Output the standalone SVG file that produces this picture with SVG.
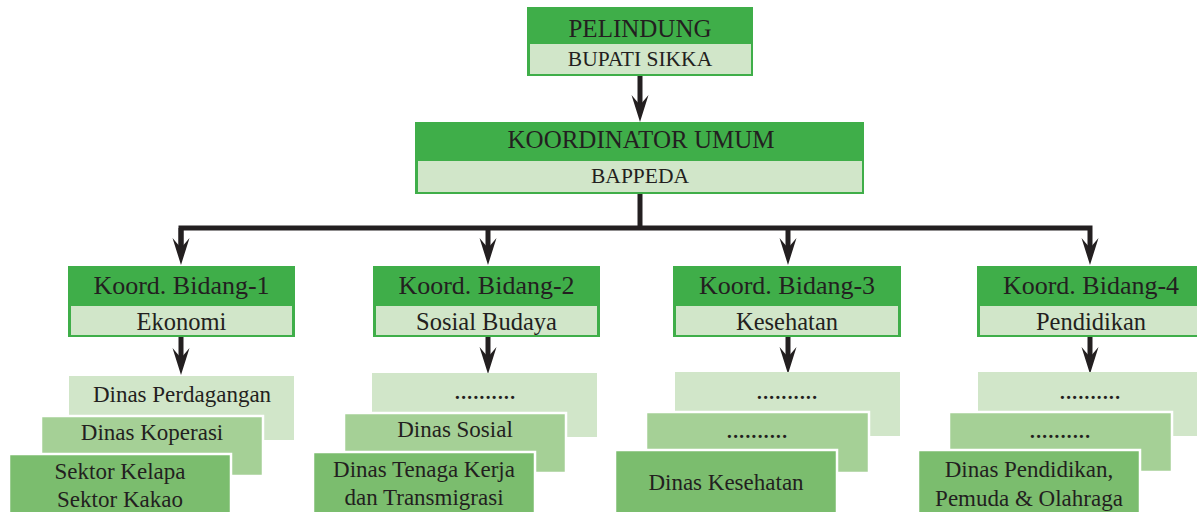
<svg xmlns="http://www.w3.org/2000/svg" width="1197" height="512" viewBox="0 0 1197 512">
<style>
.hd{fill:#3fae49}
.lt{fill:#d1e6c9}
.b1{fill:#d1e6c9}
.b2{fill:#a5d096;stroke:#fff;stroke-width:2.5}
.b3{fill:#7bbd6e;stroke:#fff;stroke-width:2.5}
text{font-family:"Liberation Serif","Times New Roman",serif;fill:#231f20;text-anchor:middle}
.t1{font-size:26px}
.t2{font-size:24.5px}
.t3{font-size:23px}
.dt{font-size:27px}
.ln{fill:none;stroke:#231f20;stroke-width:5;stroke-linejoin:miter}
</style>
<defs>
<marker id="ah" markerUnits="userSpaceOnUse" viewBox="0 -9 28 18" refX="17" refY="0" markerWidth="28" markerHeight="18" orient="auto">
<path d="M0,-8.5 L27,0 L0,8.5 L10,0 z" fill="#231f20"/>
</marker>
</defs>
<rect width="1197" height="512" fill="#fff"/>
<g id="connectors">
<path class="ln" d="M640,76 V112" marker-end="url(#ah)"/>
<path class="ln" d="M640,194 V228"/>
<path class="ln" d="M181,255 V228 H1090 V255" marker-end="url(#ah)"/>
<path class="ln" d="M488,228 V255" marker-end="url(#ah)"/>
<path class="ln" d="M788,228 V255" marker-end="url(#ah)"/>
<path class="ln" d="M181,228 V255" marker-end="url(#ah)"/>
<path class="ln" d="M181,337 V365" marker-end="url(#ah)"/>
<path class="ln" d="M488,337 V364" marker-end="url(#ah)"/>
<path class="ln" d="M788,337 V364" marker-end="url(#ah)"/>
<path class="ln" d="M1090,337 V364" marker-end="url(#ah)"/>
</g>
<g id="pelindung">
<rect class="hd" x="527" y="7" width="226" height="69"/>
<rect class="lt" x="530" y="44" width="221" height="30"/>
<text x="640" y="37" style="font-size:25px">PELINDUNG</text>
<text x="640" y="66" style="font-size:21.5px">BUPATI SIKKA</text>
</g>
<g id="koordinator-umum">
<rect class="hd" x="415" y="122" width="449" height="72"/>
<rect class="lt" x="418" y="161" width="444" height="31"/>
<text x="641" y="148" style="font-size:25px">KOORDINATOR UMUM</text>
<text x="640" y="183" style="font-size:21.5px">BAPPEDA</text>
</g>
<g id="bidang-1">
<rect class="hd" x="68" y="266" width="227" height="71"/>
<rect class="lt" x="71" y="306" width="221" height="29"/>
<text class="t1" x="181.5" y="294">Koord. Bidang-1</text>
<text class="t2" x="181.5" y="330">Ekonomi</text>
</g>
<g id="bidang-2">
<rect class="hd" x="373" y="266" width="227" height="71"/>
<rect class="lt" x="376" y="306" width="221" height="29"/>
<text class="t1" x="486.5" y="294">Koord. Bidang-2</text>
<text class="t2" x="486.5" y="330">Sosial Budaya</text>
</g>
<g id="bidang-3">
<rect class="hd" x="673" y="266" width="228" height="71"/>
<rect class="lt" x="676" y="306" width="222" height="29"/>
<text class="t1" x="787" y="294">Koord. Bidang-3</text>
<text class="t2" x="787" y="330">Kesehatan</text>
</g>
<g id="bidang-4">
<rect class="hd" x="977" y="266" width="228" height="71"/>
<rect class="lt" x="980" y="306" width="222" height="29"/>
<text class="t1" x="1091" y="294">Koord. Bidang-4</text>
<text class="t2" x="1091" y="330">Pendidikan</text>
</g>
<g id="dinas-1">
<rect class="b1" x="69" y="376" width="225" height="64"/>
<text class="t3" x="182" y="402">Dinas Perdagangan</text>
<rect class="b2" x="41" y="416" width="222" height="60"/>
<text class="t3" x="152" y="440">Dinas Koperasi</text>
<rect class="b3" x="9" y="454" width="222" height="70"/>
<text class="t3" x="120" y="479">Sektor Kelapa</text>
<text class="t3" x="120" y="507">Sektor Kakao</text>
</g>
<g id="dinas-2">
<rect class="b1" x="372" y="373" width="225" height="64"/>
<text class="dt" x="485" y="399" textLength="62" lengthAdjust="spacing">..........</text>
<rect class="b2" x="344" y="413" width="222" height="60"/>
<text class="t3" x="455" y="437">Dinas Sosial</text>
<rect class="b3" x="313" y="452" width="222" height="70"/>
<text class="t3" x="424" y="477">Dinas Tenaga Kerja</text>
<text class="t3" x="424" y="505">dan Transmigrasi</text>
</g>
<g id="dinas-3">
<rect class="b1" x="675" y="372" width="225" height="64"/>
<text class="dt" x="787" y="399" textLength="62" lengthAdjust="spacing">..........</text>
<rect class="b2" x="646" y="412" width="223" height="61"/>
<text class="dt" x="757" y="438" textLength="62" lengthAdjust="spacing">..........</text>
<rect class="b3" x="615" y="450" width="222" height="72"/>
<text class="t3" x="726" y="490">Dinas Kesehatan</text>
</g>
<g id="dinas-4">
<rect class="b1" x="978" y="372" width="225" height="64"/>
<text class="dt" x="1090" y="399" textLength="62" lengthAdjust="spacing">..........</text>
<rect class="b2" x="949" y="412" width="223" height="60"/>
<text class="dt" x="1060" y="438" textLength="62" lengthAdjust="spacing">..........</text>
<rect class="b3" x="918" y="450" width="222" height="72"/>
<text class="t3" x="1029" y="477">Dinas Pendidikan,</text>
<text class="t3" x="1029" y="506">Pemuda &amp; Olahraga</text>
</g>
</svg>
